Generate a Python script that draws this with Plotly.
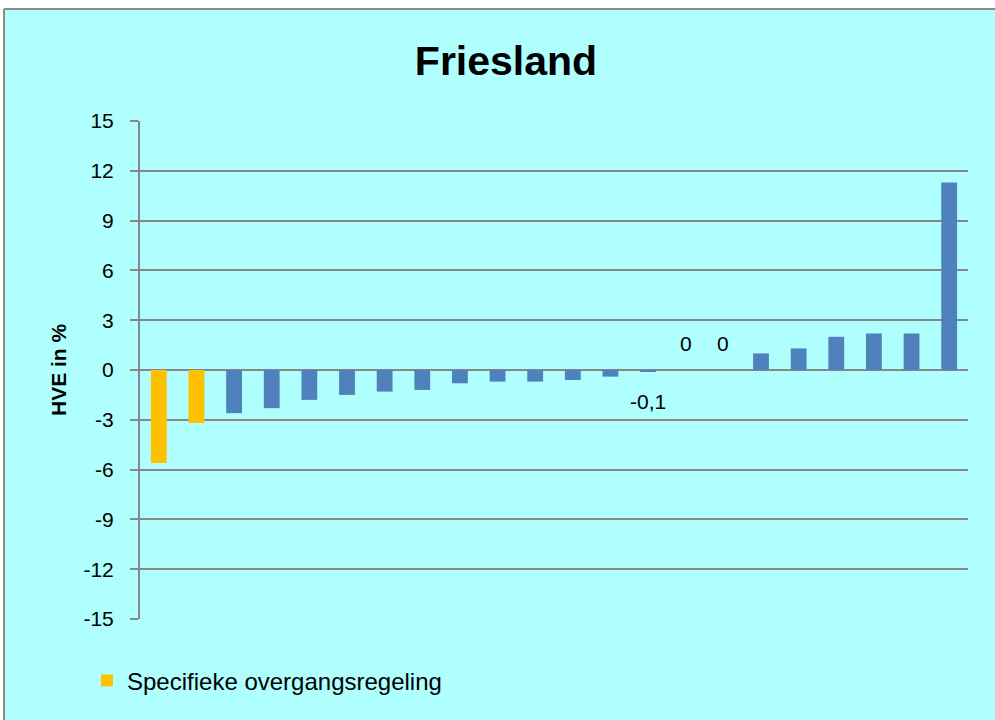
import plotly.graph_objects as go

# ---- data ----
categories = ["G%02d" % i for i in range(1, 23)]
special_cats = categories[:2]
special_vals = [-5.6, -3.2]
other_cats = categories[2:]
other_vals = [-2.6, -2.3, -1.8, -1.5, -1.3, -1.2, -0.8, -0.7, -0.7, -0.6, -0.4,
              -0.1, 0, 0, 1.0, 1.3, 2.0, 2.2, 2.2, 11.3]
labelled = ["G14", "G15", "G16"]
tick_vals = [15, 12, 9, 6, 3, 0, -3, -6, -9, -12, -15]
tick_text = [str(v) for v in tick_vals]

title_text = "Friesland"
y_title = "HVE in %"
legend_name = "Specifieke overgangsregeling"

BG = "#AFFFFF"
BLUE = "#4F81BD"
YELLOW = "#FFC000"
GRID = "#878787"
BORDER = "#8C8C8C"
FONT = "Liberation Sans, Arial, sans-serif"

W, H = 995, 720
L, R, T, B = 140, 27, 121, 101
pw, ph = W - L - R, H - T - B

def px_x(p):  # page pixel -> paper x
    return (p - L) / pw

def px_y(p):  # page pixel -> paper y
    return (H - B - p) / ph

fig = go.Figure()
fig.add_trace(go.Bar(x=special_cats, y=special_vals, name=legend_name,
                     marker=dict(color=YELLOW, line=dict(width=0)), showlegend=True))
fig.add_trace(go.Bar(x=other_cats, y=other_vals, name="overig",
                     marker=dict(color=BLUE, line=dict(width=0)), showlegend=False))

# data labels for near-zero values
val_map = dict(zip(other_cats, other_vals))
annotations = []
for c in labelled:
    v = val_map[c]
    txt = ("%g" % v).replace(".", ",")
    annotations.append(dict(x=c, y=0, xref="x", yref="y", text=txt, showarrow=False,
                            xanchor="center", yanchor="middle",
                            font=dict(family=FONT, size=21, color="black"),
                            yshift=(27 if v >= 0 else -31)))

# y-axis title as annotation
annotations.append(dict(x=px_x(58), y=0.5, xref="paper", yref="paper", text="<b>%s</b>" % y_title,
                        textangle=-90, showarrow=False, xanchor="center", yanchor="middle",
                        font=dict(family=FONT, size=21, color="black")))

shapes = [
    dict(type="rect", xref="paper", yref="paper", layer="below",
         x0=px_x(4), x1=px_x(1010), y0=px_y(740), y1=px_y(9),
         fillcolor=BG, line=dict(width=0)),
    dict(type="line", xref="paper", yref="paper", layer="below",
         x0=px_x(4), x1=px_x(1010), y0=px_y(9), y1=px_y(9),
         line=dict(color=BORDER, width=2)),
    dict(type="line", xref="paper", yref="paper", layer="below",
         x0=px_x(4), x1=px_x(4), y0=px_y(9), y1=px_y(740),
         line=dict(color=BORDER, width=2)),
]

fig.update_layout(
    width=W, height=H,
    margin=dict(l=L, r=R, t=T, b=B),
    paper_bgcolor="white",
    plot_bgcolor=BG,
    barmode="relative",
    bargap=0.58,
    title=dict(text="<b>%s</b>" % title_text, x=506 / W, xref="container", xanchor="center",
               y=1 - 61 / H, yref="container", yanchor="middle",
               font=dict(family=FONT, size=41, color="black")),
    xaxis=dict(type="category", showticklabels=False, showgrid=False, zeroline=False, showline=False,
               ticks="", range=[-0.5, 21.5]),
    yaxis=dict(range=[-15, 15], tickvals=tick_vals, ticktext=tick_text,
               showgrid=True, gridcolor=GRID, gridwidth=2,
               zeroline=False, showline=True, linecolor=GRID, linewidth=2,
               ticks="outside", ticklen=8, tickwidth=2, tickcolor=GRID,
               ticklabelstandoff=12,
               tickfont=dict(family=FONT, size=21, color="black")),
    legend=dict(x=px_x(87), y=px_y(681), xanchor="left", yanchor="middle",
                bgcolor="rgba(0,0,0,0)", font=dict(family=FONT, size=24, color="black")),
    annotations=annotations,
    shapes=shapes,
    showlegend=True,
)

fig.write_html("out.html", config={"displayModeBar": False},
               post_script="document.body.style.margin='0';document.body.style.overflow='hidden';")
